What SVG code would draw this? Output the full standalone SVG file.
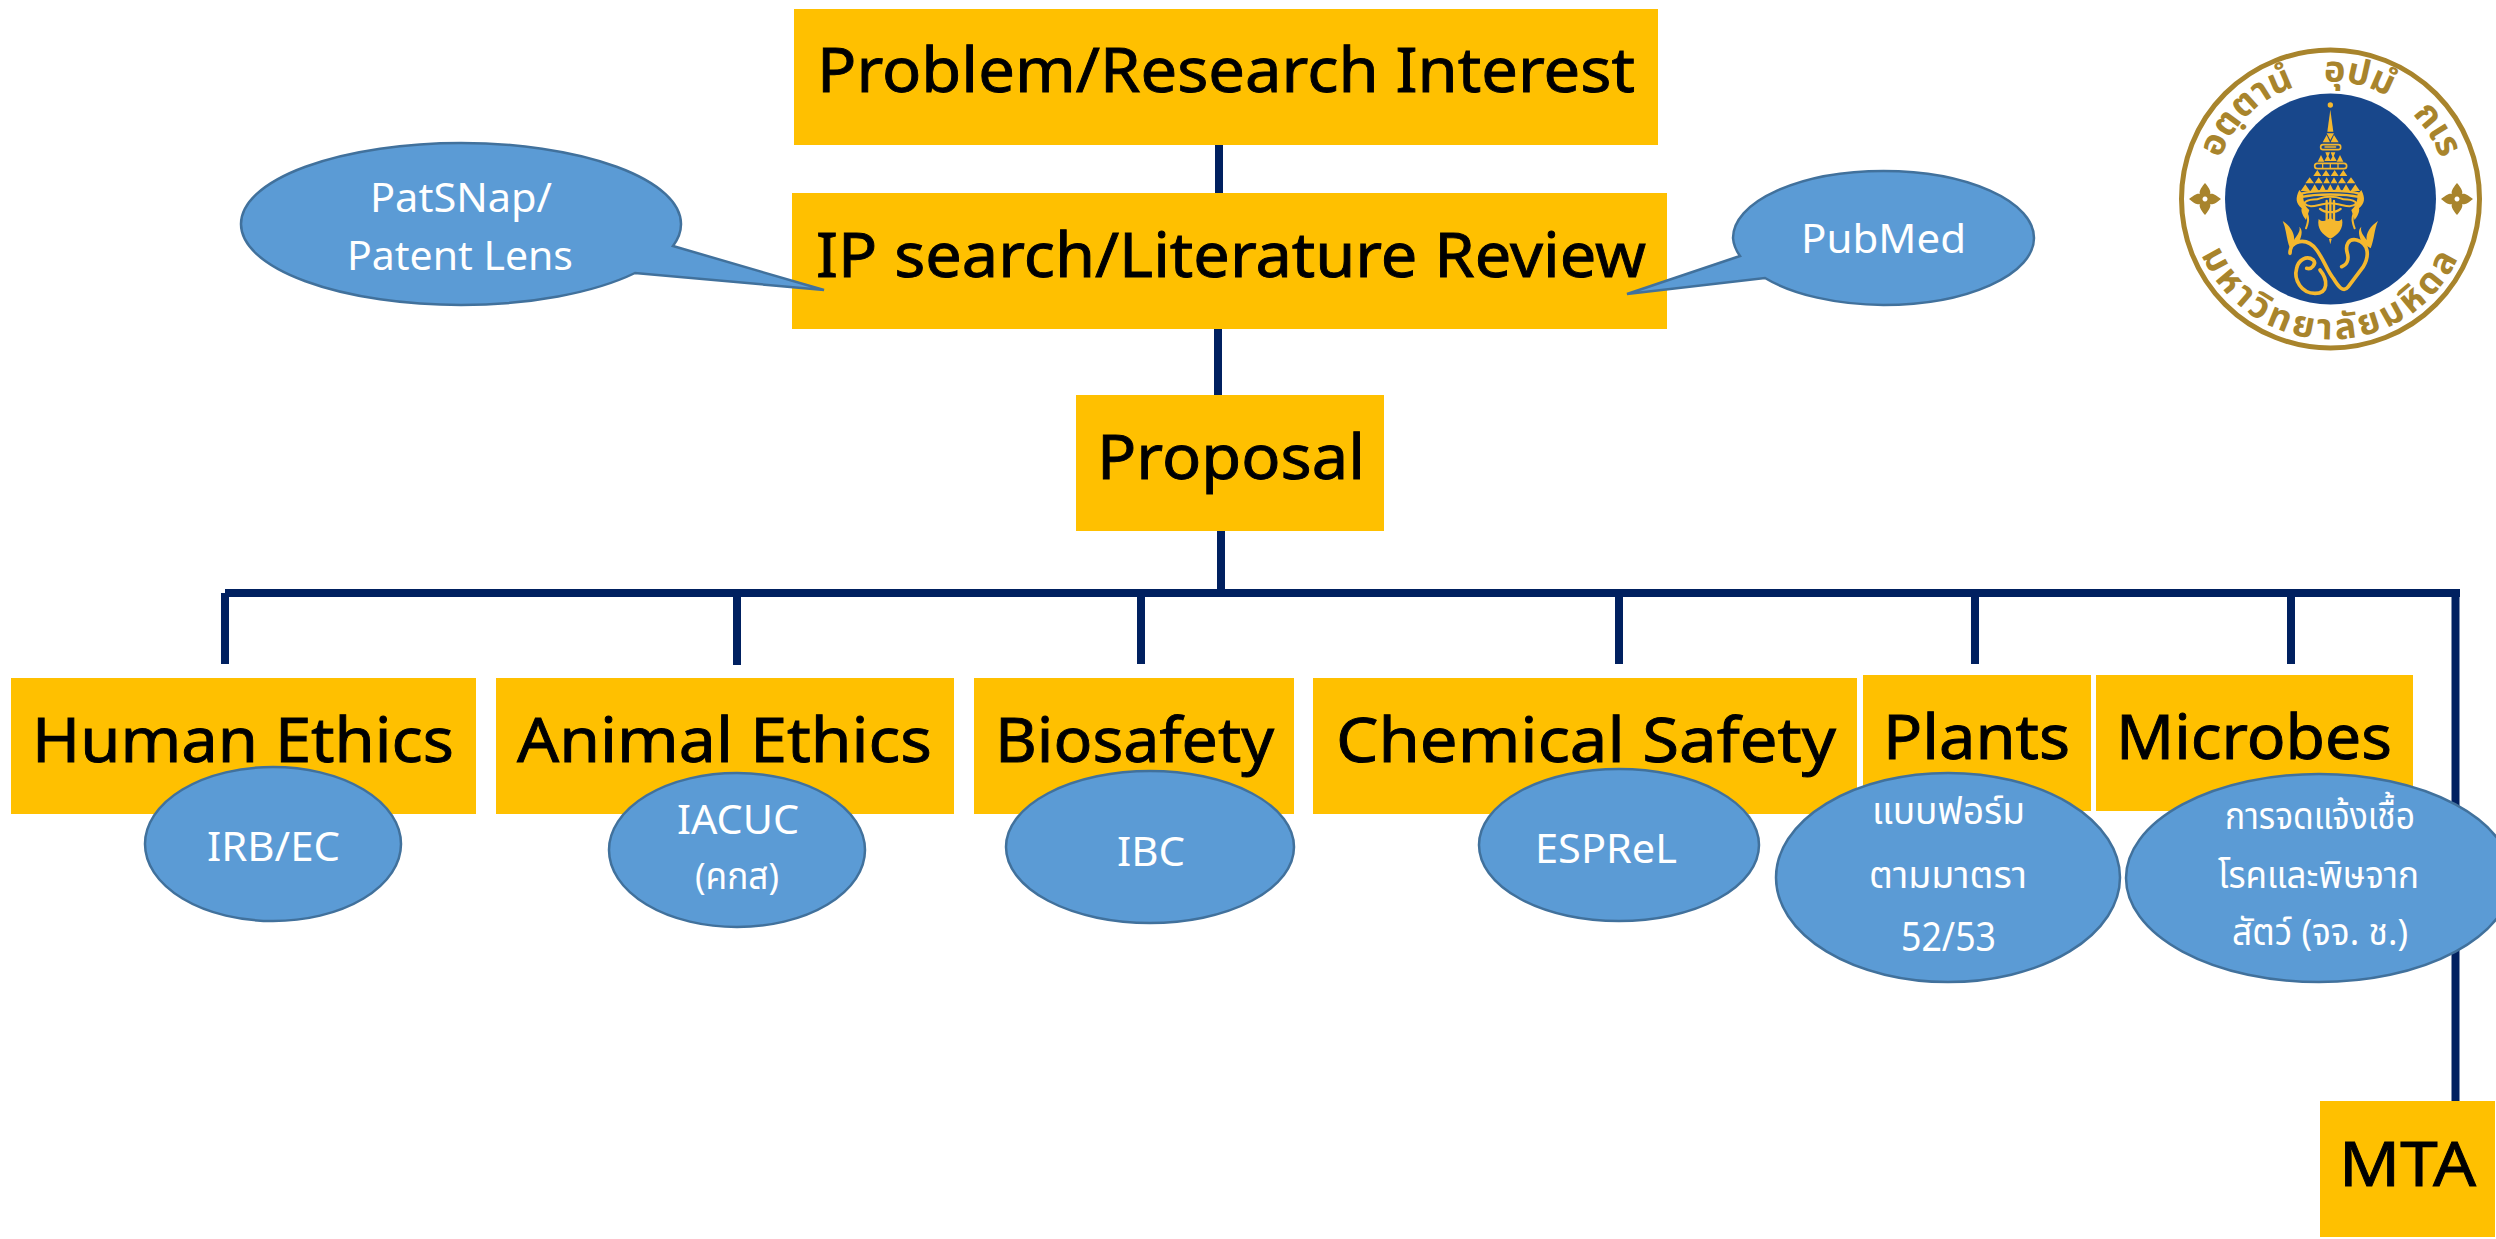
<svg xmlns="http://www.w3.org/2000/svg" xmlns:xlink="http://www.w3.org/1999/xlink" width="2496" height="1239" viewBox="0 0 2496 1239">
<style>
text{font-family:"Noto Sans","Noto Sans Thai","DejaVu Sans",sans-serif}
.box{fill:#FFC000}
.oval{fill:#5B9BD5;stroke:#41719C;stroke-width:2.5}
.t{font-size:62px;fill:#000;stroke:#000;stroke-width:.9}
.s{font-size:40px;fill:#fff}
.th{font-size:37px;fill:#fff}
.ln{stroke:#002060;stroke-width:8;fill:none}
.g{fill:#F5B82E}
.gs{fill:none;stroke:#F5B82E;stroke-linecap:round;stroke-linejoin:round}
.rt{font-size:36px;fill:#A8842C;font-weight:700}
</style>
<defs>
<path id="flower" d="M0,-16 C5,-10 6,-7 5,-5 C7,-6 10,-5 16,0 C10,5 7,6 5,5 C6,7 5,10 0,16 C-5,10 -6,7 -5,5 C-7,6 -10,5 -16,0 C-10,-5 -7,-6 -5,-5 C-6,-7 -5,-10 0,-16Z M0,-2.500 A2.500,2.500 0 1 0 0.010,-2.500Z" fill="#A8842C" fill-rule="evenodd"/>
<path id="ringTop" d="M2213,199 A117.500,117.500 0 0 1 2448,199"/>
<path id="ringBot" d="M2190,199 A140.500,140.500 0 0 0 2471,199"/>
<g id="flame">
<path class="g" d="M88,285 C75,310 78,325 95,340 C92,350 100,365 108,375 L118,345 C105,335 98,315 100,300Z"/>
<path class="g" d="M38,378 C60,392 75,415 72,435 C82,420 92,410 88,395 C100,405 95,425 85,445 L60,460 C48,430 50,405 38,378Z"/>
<path class="gs" stroke-width="6" d="M100,345 C115,355 118,375 108,400"/>
</g>
</defs>

<g id="connectors">
<path class="ln" d="M1219,145V193 M1218,329V395 M1221,531V593 M225,593H2460 M225,593V664 M737,593V665 M1141,593V664 M1619,593V664 M1975,593V664 M2291,593V664 M2455.500,593V1101"/>
</g>

<g id="problem"><rect class="box" x="794" y="9" width="864" height="136"/><text class="t" x="817" y="92" textLength="818" lengthAdjust="spacingAndGlyphs">Problem/Research Interest</text></g>
<g id="ip-search"><rect class="box" x="792" y="193" width="875" height="136"/><text class="t" x="816" y="277" textLength="830" lengthAdjust="spacingAndGlyphs">IP search/Literature Review</text></g>
<g id="proposal"><rect class="box" x="1076" y="395" width="308" height="136"/><text class="t" x="1097" y="479" textLength="268" lengthAdjust="spacingAndGlyphs">Proposal</text></g>
<g id="human-ethics"><rect class="box" x="11" y="678" width="465" height="136"/><text class="t" x="32" y="762" textLength="422" lengthAdjust="spacingAndGlyphs">Human Ethics</text></g>
<g id="animal-ethics"><rect class="box" x="496" y="678" width="458" height="136"/><text class="t" x="517" y="762" textLength="415" lengthAdjust="spacingAndGlyphs">Animal Ethics</text></g>
<g id="biosafety"><rect class="box" x="974" y="678" width="320" height="136"/><text class="t" x="995" y="762" textLength="279" lengthAdjust="spacingAndGlyphs">Biosafety</text></g>
<g id="chemical-safety"><rect class="box" x="1313" y="678" width="544" height="136"/><text class="t" x="1336" y="762" textLength="500" lengthAdjust="spacingAndGlyphs">Chemical Safety</text></g>
<g id="plants"><rect class="box" x="1863" y="675" width="228" height="136"/><text class="t" x="1883" y="759" textLength="187" lengthAdjust="spacingAndGlyphs">Plants</text></g>
<g id="microbes"><rect class="box" x="2096" y="675" width="317" height="136"/><text class="t" x="2116" y="759" textLength="276" lengthAdjust="spacingAndGlyphs">Microbes</text></g>
<g id="mta"><rect class="box" x="2320" y="1101" width="175" height="136"/><text class="t" x="2339" y="1186" textLength="137" lengthAdjust="spacingAndGlyphs">MTA</text></g>

<g id="patsnap"><path class="oval" d="M673,246 L824,290 L635,273 A220,81 0 0 1 461,305 A220,81 0 0 1 241,224 A220,81 0 0 1 461,143 A220,81 0 0 1 681,224 A220,81 0 0 1 673,246Z"/><text class="s" x="370" y="212" textLength="182" lengthAdjust="spacingAndGlyphs">PatSNap/</text><text class="s" x="347" y="270" textLength="226" lengthAdjust="spacingAndGlyphs">Patent Lens</text></g>
<g id="pubmed"><path class="oval" d="M1740,256 L1627,294 L1765,278 A150.500,67 0 0 0 1883.500,305 A150.500,67 0 0 0 2034,238 A150.500,67 0 0 0 1883.500,171 A150.500,67 0 0 0 1733,238 A150.500,67 0 0 0 1740,256Z"/><text class="s" x="1801" y="253" textLength="165" lengthAdjust="spacingAndGlyphs">PubMed</text></g>
<g id="irb"><ellipse class="oval" cx="273" cy="844" rx="128" ry="77"/><text class="s" x="207" y="861" textLength="133" lengthAdjust="spacingAndGlyphs">IRB/EC</text></g>
<g id="iacuc"><ellipse class="oval" cx="737" cy="850" rx="128" ry="77"/><text class="s" x="677" y="834" textLength="122" lengthAdjust="spacingAndGlyphs">IACUC</text><text class="th" x="695" y="889" textLength="84" lengthAdjust="spacingAndGlyphs">(คกส)</text></g>
<g id="ibc"><ellipse class="oval" cx="1150" cy="847" rx="144" ry="76"/><text class="s" x="1117" y="866" textLength="68" lengthAdjust="spacingAndGlyphs">IBC</text></g>
<g id="esprel"><ellipse class="oval" cx="1619" cy="845" rx="140" ry="76"/><text class="s" x="1535" y="863" textLength="142" lengthAdjust="spacingAndGlyphs">ESPReL</text></g>
<g id="plant-form"><ellipse class="oval" cx="1948" cy="877.500" rx="172" ry="104.500"/><text class="th" x="1872" y="824" textLength="153" lengthAdjust="spacingAndGlyphs">แบบฟอร์ม</text><text class="th" x="1869" y="888" textLength="158" lengthAdjust="spacingAndGlyphs">ตามมาตรา</text><text class="s" x="1901" y="951" textLength="95" lengthAdjust="spacingAndGlyphs">52/53</text></g>
<g id="microbe-notice"><ellipse class="oval" cx="2319" cy="878" rx="193" ry="104"/><text class="th" x="2225" y="829" textLength="190" lengthAdjust="spacingAndGlyphs">การจดแจ้งเชื้อ</text><text class="th" x="2218" y="888" textLength="201" lengthAdjust="spacingAndGlyphs">โรคและพิษจาก</text><text class="th" x="2232" y="945" textLength="176" lengthAdjust="spacingAndGlyphs">สัตว์ (จจ. ช.)</text></g>

<g id="logo">
<circle cx="2330.500" cy="199" r="149" fill="#fff" stroke="#A8842C" stroke-width="5"/>
<circle cx="2330.500" cy="199" r="105.500" fill="#18478B"/>
<use xlink:href="#flower" href="#flower" x="2205" y="199"/>
<use xlink:href="#flower" href="#flower" x="2457" y="199"/>
<text class="rt" style="word-spacing:20px"><textPath xlink:href="#ringTop" href="#ringTop" startOffset="50%" text-anchor="middle">อตฺตานํ อุปมํ กเร</textPath></text>
<text class="rt"><textPath xlink:href="#ringBot" href="#ringBot" startOffset="50%" text-anchor="middle" style="letter-spacing:4px">มหาวิทยาลัยมหิดล</textPath></text>
<g transform="translate(2270,95) scale(0.3333)">
<circle class="g" cx="181" cy="30" r="8"/>
<path class="g" d="M181,44L190,110H172Z"/>
<path class="g" d="M158,142L170,120L180,142Z M182,142L192,120L206,142Z M170,115H192L181,135Z"/>
<rect x="152" y="149" width="60" height="15" rx="7" fill="none" stroke="#F5B82E" stroke-width="5"/>
<path class="gs" stroke-width="4" d="M165,156H197"/>
<path class="g" d="M143,200L153,180L163,200Z M200,200L210,180L220,200Z M166,172H180L173,190Z M182,172H196L189,190Z M163,198L173,180L183,198Z M180,198L190,180L200,198Z"/>
<rect x="134" y="205" width="96" height="16" rx="8" fill="none" stroke="#F5B82E" stroke-width="5"/>
<path class="gs" stroke-width="4" d="M158,208V219 M181,208V219 M204,208V219"/>
<path class="g" d="M130,243L142,225L154,243Z M156,243L168,225L180,243Z M182,243L194,225L206,243Z M208,243L220,225L232,243Z"/>
<path class="g" d="M106,265L119,247L132,265Z M134,265L146,247L158,265Z M160,265L170,247L180,265Z M182,265L192,247L202,265Z M204,265L216,247L228,265Z M230,265L243,247L256,265Z"/>
<path class="g" d="M92,288L106,268L120,288Z M122,288L134,268L146,288Z M148,288L158,268L168,288Z M171,288L181,268L191,288Z M194,288L204,268L214,288Z M216,288L228,268L240,288Z M242,288L256,268L270,288Z"/>
<path class="gs" stroke-width="7" d="M94,296 C130,285 232,285 268,296 M96,306 C135,296 227,296 266,306"/>
<path class="gs" stroke-width="6" d="M102,325 C115,308 135,318 150,310 C165,304 197,304 212,310 C227,318 247,308 260,325 C240,345 215,325 181,325 C147,325 122,345 102,325Z"/>
<path class="gs" stroke-width="7" d="M170,318V385 M192,318V385 M181,312V385 M150,342 C165,355 197,355 212,342"/>
<path class="g" d="M146,372 C160,385 170,375 181,368 C192,375 202,385 216,372 C222,400 205,420 181,431 C157,420 140,400 146,372Z"/>
<path class="g" d="M177,432H185L181,448Z"/>
<use xlink:href="#flame" href="#flame"/>
<use xlink:href="#flame" href="#flame" transform="translate(362,0) scale(-1,1)"/>
<path class="gs" stroke-width="11" d="M60,475 C60,435 110,425 140,465 C165,500 170,525 190,550 C205,575 220,595 235,575 L280,515 C300,480 295,445 260,435 C235,430 225,450 232,475 C238,495 230,510 215,515"/>
<path class="gs" stroke-width="11" d="M150,525 C175,555 175,595 135,595 C95,595 70,555 80,520 C85,495 110,480 130,495 C140,505 125,525 110,520"/>
</g>
</g>
</svg>
